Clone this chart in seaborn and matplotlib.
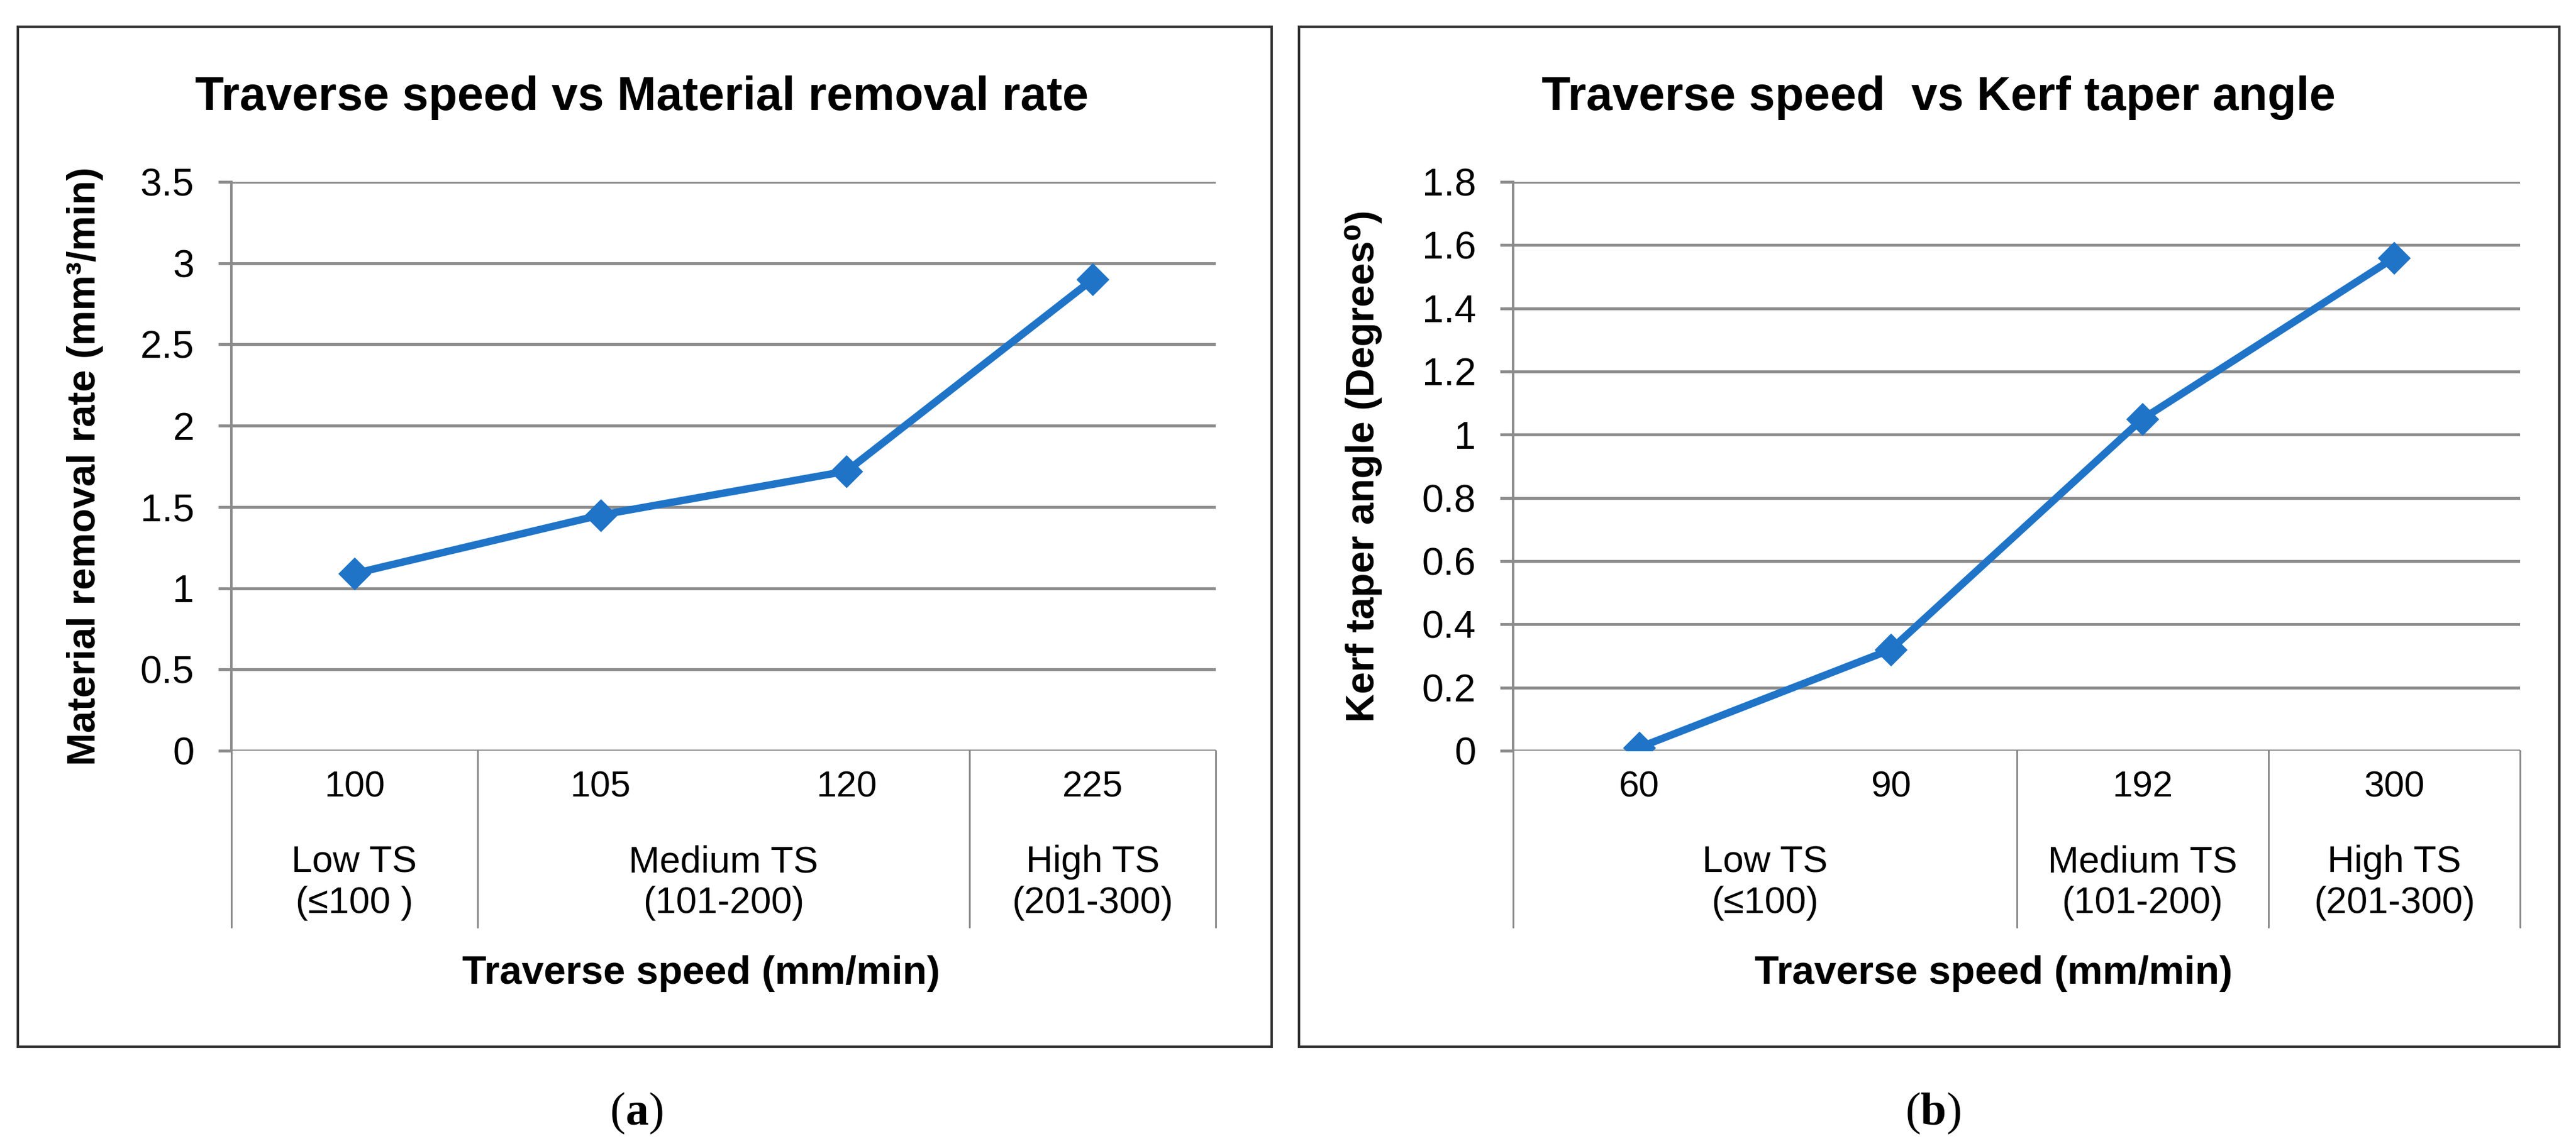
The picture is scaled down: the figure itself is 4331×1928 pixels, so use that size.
import numpy as np
import pandas as pd
import matplotlib
matplotlib.use("Agg")
import matplotlib.pyplot as plt
import matplotlib.transforms as mtransforms
from matplotlib.patches import Rectangle
import seaborn as sns

# datos de los dos paneles
speed_a = ["100", "105", "120", "225"]
mrr_a = [1.09, 1.45, 1.72, 2.90]
groups_a = ["Low TS\n(≤100 )", "Medium TS\n(101-200)", "High TS\n(201-300)"]
group_sizes_a = [1, 2, 1]
yticks_a = [0, 0.5, 1, 1.5, 2, 2.5, 3, 3.5]

speed_b = ["60", "90", "192", "300"]
kta_b = [0.01, 0.32, 1.05, 1.56]
groups_b = ["Low TS\n(≤100)", "Medium TS\n(101-200)", "High TS\n(201-300)"]
group_sizes_b = [2, 1, 1]
yticks_b = [0, 0.2, 0.4, 0.6, 0.8, 1, 1.2, 1.4, 1.6, 1.8]

sns.set_theme(style="white")
plt.rcParams["font.family"] = ["Liberation Sans", "DejaVu Sans"]
plt.rcParams["text.color"] = "black"
plt.rcParams["axes.labelcolor"] = "black"
plt.rcParams["xtick.labelcolor"] = "black"
plt.rcParams["ytick.labelcolor"] = "black"

W, H = 4331, 1928
fig = plt.figure(figsize=(W / 100, H / 100), dpi=100)

GRID = "#8c8c8c"
BLUE = "#1f74c8"
SERIF = ["Liberation Serif", "DejaVu Serif"]


def panel(rect, speeds, values, groups, sizes, yticks, title, ylabel,
          title_x, xlabel_x, frame, tag, tag_x, tag_w):
    ax = fig.add_axes(rect)
    df = pd.DataFrame({"pos": np.arange(len(speeds)), "val": values})
    sns.lineplot(data=df, x="pos", y="val", ax=ax, color=BLUE, lw=9,
                 marker="D", markersize=28, markeredgecolor=BLUE)
    ax.set_xlim(-0.5, len(speeds) - 0.5)
    ax.set_ylim(yticks[0], yticks[-1])
    ax.set_yticks(yticks)
    ax.set_yticklabels([f"{v:g}" for v in yticks])
    ax.set_xticks(np.arange(len(speeds)))
    ax.set_xticklabels(speeds)
    ax.grid(axis="y", color=GRID, lw=3.5)
    ax.set_axisbelow(True)
    for s in ["top", "right", "bottom"]:
        ax.spines[s].set_visible(False)
    ax.spines["left"].set_color(GRID)
    ax.spines["left"].set_linewidth(3)
    ax.tick_params(axis="y", length=16, width=3.5, color=GRID, labelsize=47,
                   pad=29, left=True, labelcolor="black")
    ax.tick_params(axis="x", length=0, labelsize=44, pad=24,
                   labelcolor="black")

    # líneas de separación de grupos bajo el eje
    trans = mtransforms.blended_transform_factory(ax.transData, ax.transAxes)
    bounds = np.concatenate([[0], np.cumsum(sizes)]) - 0.5
    for b in bounds:
        ax.plot([b, b], [0, -0.31], transform=trans, color=GRID, lw=2.2,
                clip_on=False)
    for g, lo, hi in zip(groups, bounds[:-1], bounds[1:]):
        ax.text((lo + hi) / 2, -0.232, g, transform=trans, ha="center",
                va="center", fontsize=45, linespacing=1.2, color="black")

    ax.set_xlabel("")
    ax.set_ylabel(ylabel, fontsize=48, fontweight="bold", color="black")
    ax.yaxis.set_label_coords(-0.130, 0.5)
    ax.text(xlabel_x, -0.41, "Traverse speed (mm/min)", transform=ax.transAxes,
            ha="center", va="baseline", fontsize=48, fontweight="bold",
            color="black")
    fig.text(title_x, 1 - 185 / H, title, ha="center", va="baseline",
             fontsize=57, fontweight="bold", color="black")
    x0, y0, x1, y1 = frame
    fig.patches.append(Rectangle((x0 / W, 1 - y1 / H), (x1 - x0) / W,
                                 (y1 - y0) / H, transform=fig.transFigure,
                                 fill=False, edgecolor="#333333", lw=3))
    ty = 1 - 1892 / H
    fig.text(tag_x - tag_w, ty, "(", ha="right", va="baseline", fontsize=56,
             family=SERIF, color="black")
    fig.text(tag_x, ty, tag, ha="center", va="baseline", fontsize=56,
             family=SERIF, fontweight="bold", color="black")
    fig.text(tag_x + tag_w, ty, ")", ha="left", va="baseline", fontsize=56,
             family=SERIF, color="black")
    return ax


panel([389 / W, 1 - 1263 / H, (2044 - 389) / W, (1263 - 306) / H],
      speed_a, mrr_a, groups_a, group_sizes_a, yticks_a,
      "Traverse speed vs Material removal rate",
      "Material removal rate (mm³/min)", 1079 / W, 0.477,
      (30, 45, 2138, 1761), "a", 1071 / W, 19.5 / W)

panel([2544 / W, 1 - 1263 / H, (4237 - 2544) / W, (1263 - 306) / H],
      speed_b, kta_b, groups_b, group_sizes_b, yticks_b,
      "Traverse speed  vs Kerf taper angle",
      "Kerf taper angle (Degrees⁰)", 3259 / W, 0.477,
      (2184, 45, 4303, 1761), "b", 3251 / W, 21.5 / W)

fig.savefig("out.png", dpi=100, facecolor="white")
